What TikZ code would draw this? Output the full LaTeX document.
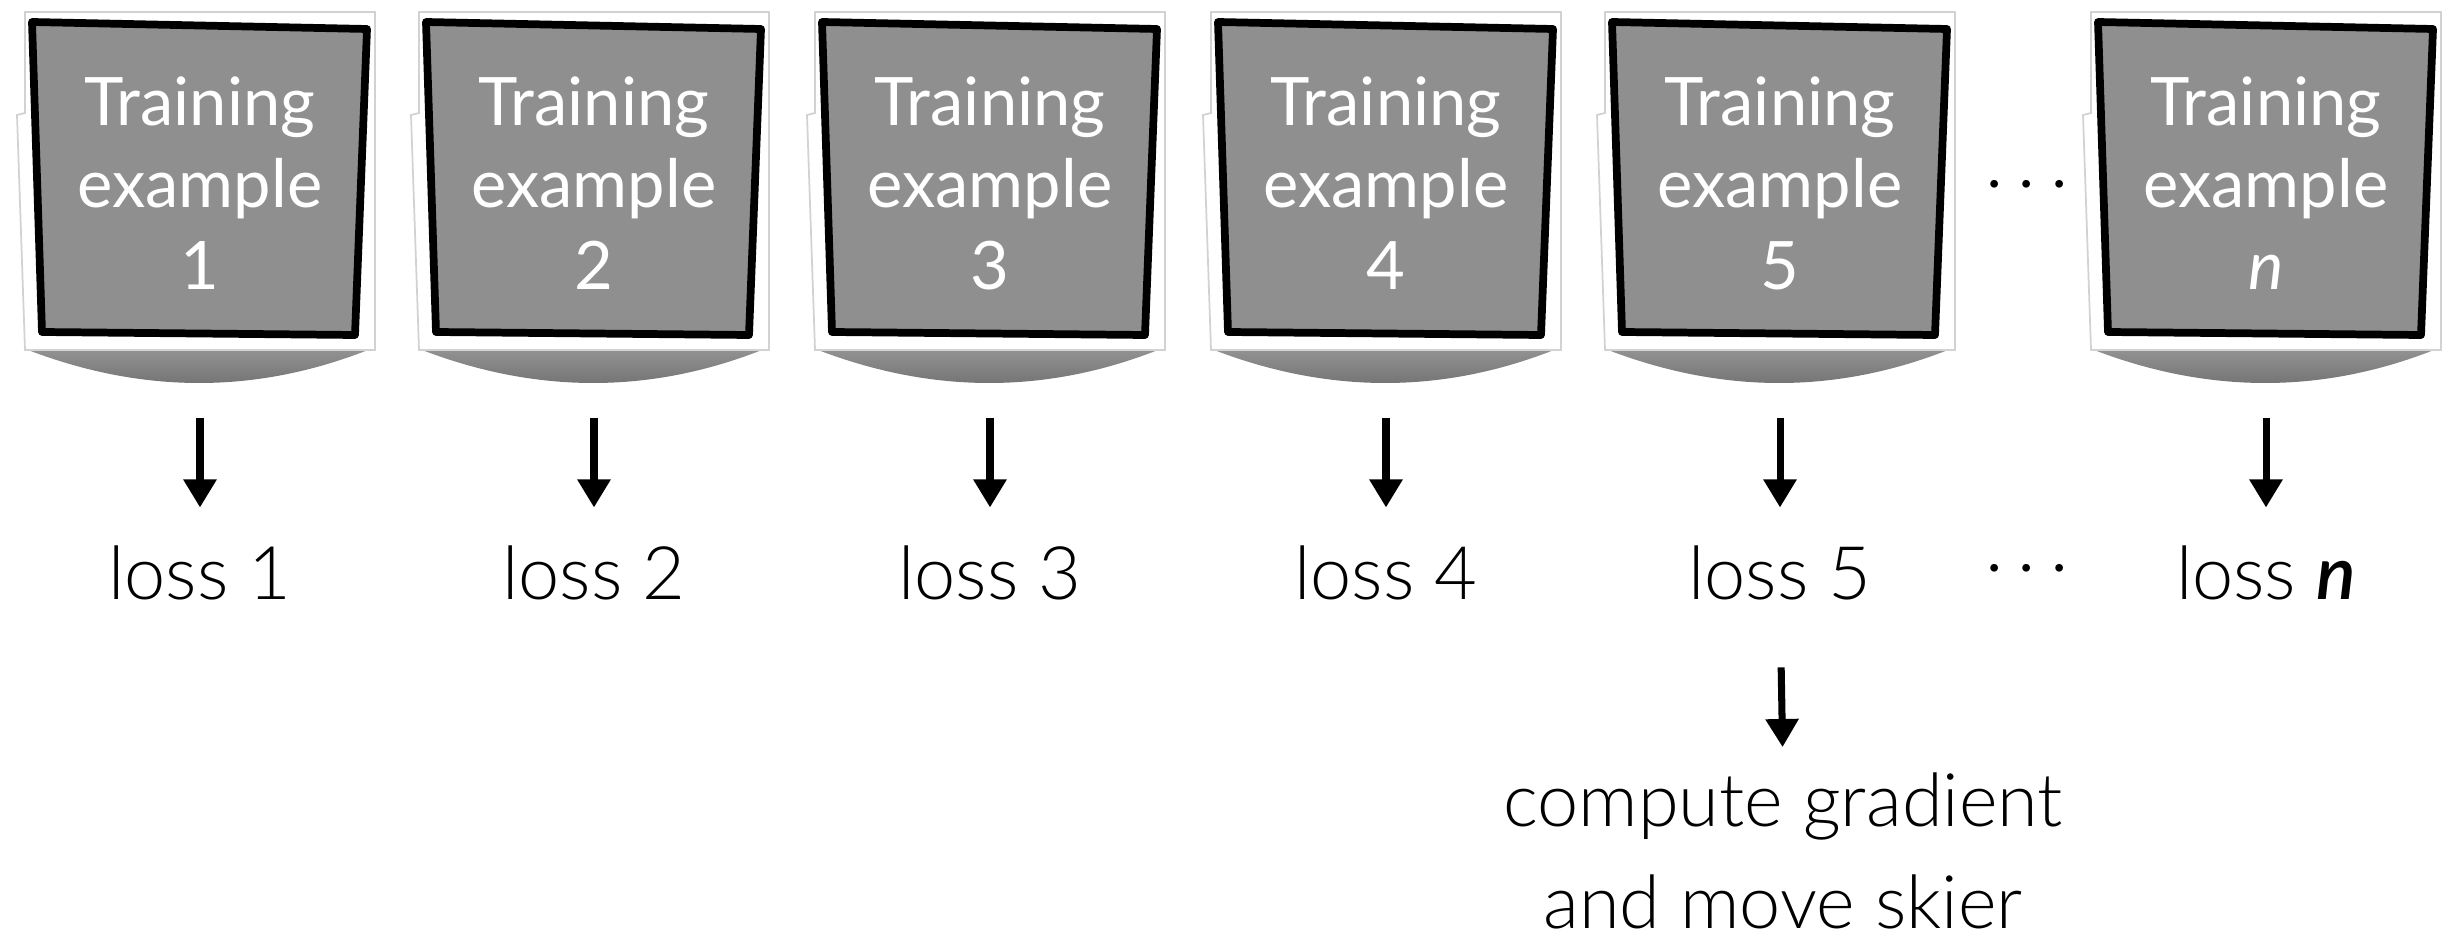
\documentclass[tikz,border=0pt]{standalone}
\usepackage{fontspec}
\setmainfont{Lato}
\newfontfamily\lightfont{Lato Light}
\usetikzlibrary{arrows.meta}
\definecolor{cardgray}{RGB}{143,143,143}
\definecolor{framegray}{RGB}{210,210,210}
\definecolor{shadowgray}{RGB}{108,108,108}
\begin{document}
\begin{tikzpicture}[x=0.01cm,y=-0.01cm,
  cardtext/.style={text=white, align=center, minimum width=3.5cm, minimum height=3.38cm,
    inner sep=0pt, font=\fontsize{19}{23.3}\selectfont},
  losslabel/.style={font=\lightfont\fontsize{21}{29}\selectfont, inner sep=0pt, align=center},
  dotslabel/.style={font=\fontsize{21}{24}\selectfont, inner sep=0pt, anchor=base},
  arr/.style={-{Triangle[length=8pt,width=9pt]}, line width=2pt},
  cardframe/.style={fill=white, draw=framegray, line width=0.5pt},
  cardface/.style={fill=cardgray, draw=black, line width=2.2pt, line join=round},
  cardshadow/.style={top color=black!40, bottom color=shadowgray},
]
\useasboundingbox (0,0) rectangle (2457,940);

% the cards, each with its curled shadow, white frame and sketched face
\foreach \i/\x/\lab/\loss in {1/200/1/1, 2/594/2/2, 3/990/3/3, 4/1386/4/4, 5/1780/5/5,
    n/2266/{\textit{n}}/{\textbf{\textit{n}}}}{
  \begin{scope}[shift={(\x,181)}]
    \shade[cardshadow] (-172,160) -- (-172,169) .. controls (-57,213) and (56,213) .. (168,169)
      -- (168,160) -- cycle;
    \path[cardframe] (-175,-169) -- (175,-169) -- (175,169) -- (-175,169)
      -- (-183,-66) -- (-175,-68) -- cycle;
    \path[cardface] (-168,-159) -- (167,-152) -- (155,154) -- (-158,151) -- cycle;
    \node[cardtext] (c\i) at (0,2) {Training\\example\\\lab};
  \end{scope}
  \node[losslabel, anchor=base] (l\i) at (\x,600) {loss \loss};
  \draw[arr, shorten <=0.65cm, shorten >=0.38cm] (c\i.south) -- (l\i.north);
}

% ellipses between card 5 and card n
\node[dotslabel] (d1) at (2027,203) {$\cdots$};
\node[dotslabel] (d2) at (2027,587) {$\cdots$};

% the update step
\node[losslabel] (g) at (1783,851) {compute gradient\\and move skier};
\draw[arr, shorten <=0.66cm, shorten >=0.25cm] (l5.south) -- (g.north);
\end{tikzpicture}
\end{document}
